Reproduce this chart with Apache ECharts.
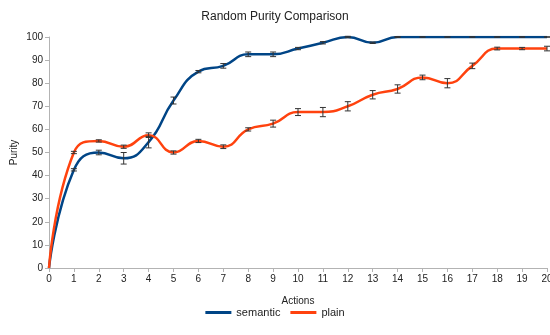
<!DOCTYPE html>
<html><head><meta charset="utf-8">
<script src="https://cdn.jsdelivr.net/npm/echarts@6/dist/echarts.min.js"></script>
<style>html,body{margin:0;padding:0;background:#fff}#c{width:550px;height:335px}</style>
</head><body><div id="c"></div>
<script>
var actions = [0,1,2,3,4,5,6,7,8,9,10,11,12,13,14,15,16,17,18,19,20];
var semantic = [0,42.5,50,47.5,54.5,72.5,85,87.5,92.5,92.5,95,97.5,100,97.5,100,100,100,100,100,100,100];
var semanticErr = [0,0.5,1,2.5,2.5,1.5,0.5,1,1,1,0.5,0.5,0.3,0.3,0.2,0.1,0.1,0.1,0.1,0.1,0.1];
var plain = [0,50,55,52.5,57.5,50,55,52.5,60,62.5,67.5,67.5,70,75,77.5,82.5,80,87.5,95,95,95];
var plainErr = [0,0.5,0.5,0.7,1,0.7,0.7,0.8,0.7,1.5,1.5,2,2,1.8,1.8,1,2,1.2,0.6,0.5,1];

function pairs(ys){return actions.map(function(x,i){return [x,ys[i]];});}
function errData(ys,es){return actions.map(function(x,i){return [x,ys[i]-es[i],ys[i]+es[i]];}).filter(function(d,i){return i>0;});}
function renderErr(params, api){
  var x = api.value(0);
  var lo = api.coord([x, api.value(1)]);
  var hi = api.coord([x, api.value(2)]);
  var w = 3;
  var st = {stroke:'#333', lineWidth:1};
  return {type:'group', children:[
    {type:'line', shape:{x1:lo[0],y1:lo[1],x2:hi[0],y2:hi[1]}, style:st},
    {type:'line', shape:{x1:lo[0]-w,y1:lo[1],x2:lo[0]+w,y2:lo[1]}, style:st},
    {type:'line', shape:{x1:hi[0]-w,y1:hi[1],x2:hi[0]+w,y2:hi[1]}, style:st}
  ]};
}
var chart = echarts.init(document.getElementById('c'));
var axisLine = {show:true, lineStyle:{color:'#b3b3b3'}};
chart.setOption({
  animation:false,
  title:{text:'Random Purity Comparison', left:'center', top:6, textStyle:{fontSize:12, fontWeight:'normal', color:'#222', fontFamily:'Liberation Sans'}},
  legend:{bottom:12, left:'center', itemWidth:26, itemHeight:3, itemGap:10, icon:'rect',
    textStyle:{fontSize:11, color:'#222', fontFamily:'Liberation Sans'},
    data:['semantic','plain']},
  grid:{left:49, right:3, top:37, bottom:67, outerBoundsMode:'none', containLabel:false},
  xAxis:{type:'value', min:0, max:20, interval:1, name:'Actions', nameLocation:'middle', nameGap:28, nameMoveOverlap:false,
    nameTextStyle:{fontSize:10, color:'#222', fontFamily:'Liberation Sans'},
    axisLine:axisLine, axisTick:{show:true, length:4, lineStyle:{color:'#b3b3b3'}},
    axisLabel:{fontSize:10, color:'#222', margin:6, fontFamily:'Liberation Sans'}, splitLine:{show:false}},
  yAxis:{type:'value', min:0, max:100, interval:10, name:'Purity', nameLocation:'middle', nameGap:30, nameMoveOverlap:false,
    nameTextStyle:{fontSize:10, color:'#222', fontFamily:'Liberation Sans'},
    axisLine:axisLine, axisTick:{show:true, length:4, lineStyle:{color:'#b3b3b3'}},
    axisLabel:{fontSize:10, color:'#222', margin:6, fontFamily:'Liberation Sans'}, splitLine:{show:false}},
  series:[
    {name:'semantic', type:'line', data:pairs(semantic), smooth:0.5, showSymbol:false, symbol:'none',
      lineStyle:{color:'#004586', width:2.5}, itemStyle:{color:'#004586'}, z:2},
    {name:'plain', type:'line', data:pairs(plain), smooth:0.5, showSymbol:false, symbol:'none',
      lineStyle:{color:'#ff420e', width:2.5}, itemStyle:{color:'#ff420e'}, z:2},
    {type:'custom', data:errData(semantic,semanticErr), renderItem:renderErr, encode:{x:0,y:[1,2]}, z:5},
    {type:'custom', data:errData(plain,plainErr), renderItem:renderErr, encode:{x:0,y:[1,2]}, z:5}
  ]
});
</script></body></html>
